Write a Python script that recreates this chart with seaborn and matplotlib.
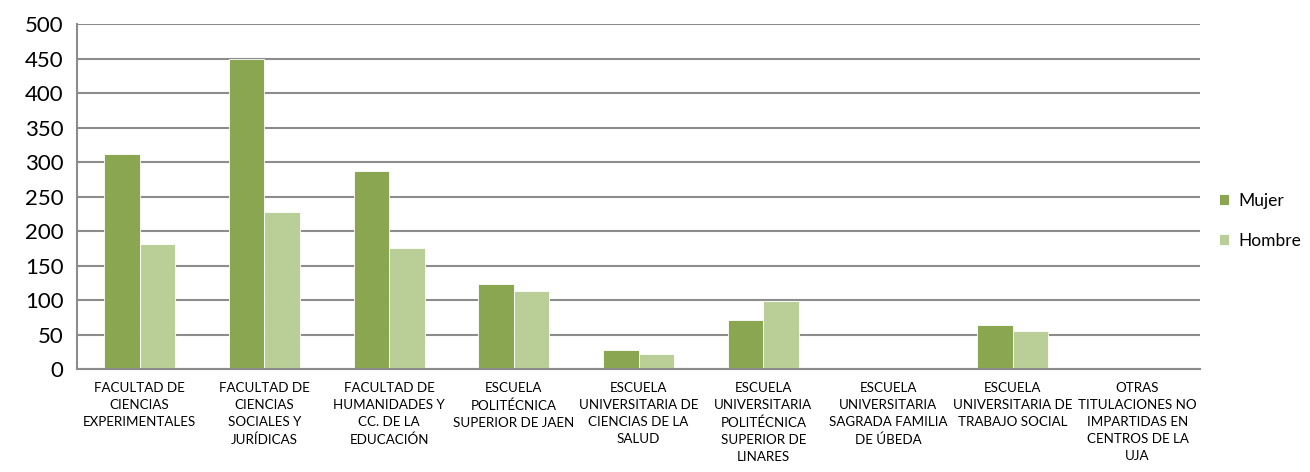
import numpy as np
import pandas as pd
import matplotlib
matplotlib.use("Agg")
import matplotlib.pyplot as plt
from matplotlib.ticker import FixedLocator
import seaborn as sns

centros = [
    "FACULTAD DE\nCIENCIAS\nEXPERIMENTALES",
    "FACULTAD DE\nCIENCIAS\nSOCIALES Y\nJURÍDICAS",
    "FACULTAD DE\nHUMANIDADES Y\nCC. DE LA\nEDUCACIÓN",
    "ESCUELA\nPOLITÉCNICA\nSUPERIOR DE JAEN",
    "ESCUELA\nUNIVERSITARIA DE\nCIENCIAS DE LA\nSALUD",
    "ESCUELA\nUNIVERSITARIA\nPOLITÉCNICA\nSUPERIOR DE\nLINARES",
    "ESCUELA\nUNIVERSITARIA\nSAGRADA FAMILIA\nDE ÚBEDA",
    "ESCUELA\nUNIVERSITARIA DE\nTRABAJO SOCIAL",
    "OTRAS\nTITULACIONES NO\nIMPARTIDAS EN\nCENTROS DE LA\nUJA",
]
mujer = [312, 450, 287, 123, 28, 71, 0, 64, 0]
hombre = [181, 228, 175, 113, 22, 98, 0, 55, 0]
series = ["Mujer", "Hombre"]
colores = ["#8AA650", "#BACF98"]

sns.set_theme(style="white")
plt.rcParams["font.family"] = ["Lato", "DejaVu Sans"]
plt.rcParams["text.color"] = "black"
plt.rcParams["xtick.labelcolor"] = "black"
plt.rcParams["ytick.labelcolor"] = "black"

df = pd.DataFrame({
    "centro": centros * 2,
    "sexo": [series[0]] * len(centros) + [series[1]] * len(centros),
    "valor": mujer + hombre,
})

fig = plt.figure(figsize=(13.1, 4.72), dpi=100)
ax = fig.add_axes([0.059, 0.218, 0.857, 0.731])

sns.barplot(data=df, x="centro", y="valor", hue="sexo", palette=colores,
            saturation=1, width=0.57, edgecolor="white", linewidth=0.6, ax=ax)

ax.set_ylim(0, 500)
ax.set_xlim(-0.5, len(centros) - 0.5)
ax.set_yticks(range(0, 501, 50))
ax.grid(axis="y", color="#8C8C8C", linewidth=1.5)
ax.set_axisbelow(True)
for s in ["top", "right"]:
    ax.spines[s].set_visible(False)
for s in ["left", "bottom"]:
    ax.spines[s].set_color("#8C8C8C")
    ax.spines[s].set_linewidth(1.5)

ax.tick_params(axis="y", length=6, width=1.5, color="#8C8C8C", labelsize=16, pad=4)
ax.tick_params(axis="x", which="major", length=0, labelsize=9.6, pad=9)
ax.xaxis.set_minor_locator(FixedLocator(np.arange(-0.5, len(centros), 1.0)))
ax.tick_params(axis="x", which="minor", length=5, width=1.5, color="#8C8C8C")
for lbl in ax.get_xticklabels():
    lbl.set_linespacing(1.52)
ax.set_xlabel("")
ax.set_ylabel("")

ax.legend(loc="center left", bbox_to_anchor=(1.006, 0.43), frameon=False,
          fontsize=12.5, handlelength=0.6, handleheight=0.6, labelspacing=1.4,
          handletextpad=0.5, borderaxespad=0.3)

plt.savefig("out.png", dpi=100)
